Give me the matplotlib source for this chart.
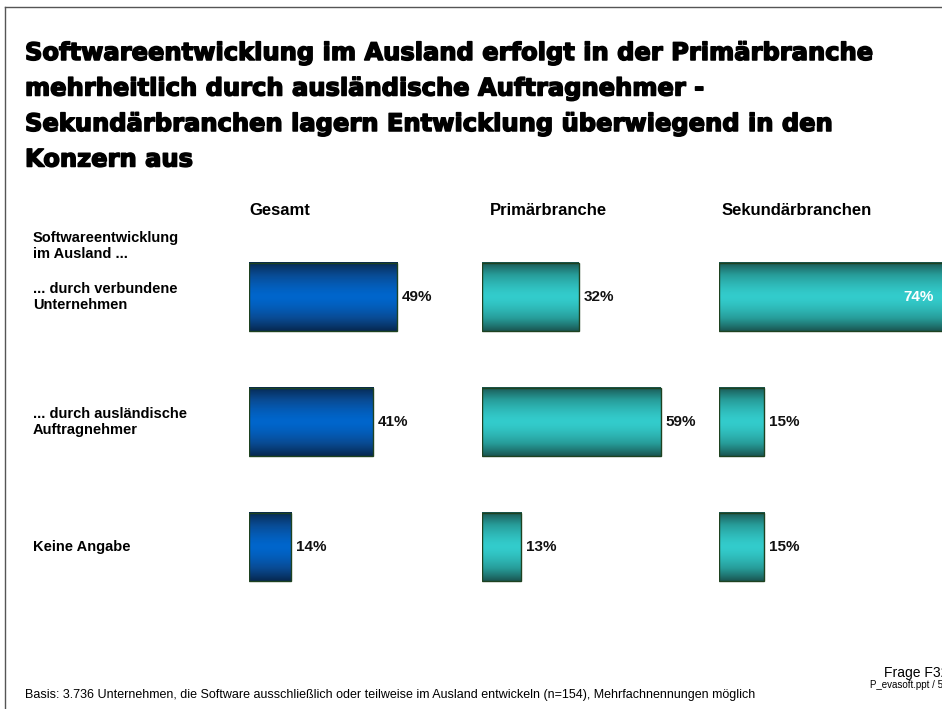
import numpy as np
import matplotlib
matplotlib.use('Agg')
import matplotlib.pyplot as plt
import matplotlib.patheffects as pe
from matplotlib.colors import LinearSegmentedColormap
from matplotlib.lines import Line2D

# data
TITLE_LINES = [
    'Softwareentwicklung im Ausland erfolgt in der Primärbranche',
    'mehrheitlich durch ausländische Auftragnehmer -',
    'Sekundärbranchen lagern Entwicklung überwiegend in den',
    'Konzern aus',
]
panels = ['Gesamt', 'Primärbranche', 'Sekundärbranchen']
row_header = 'Softwareentwicklung\nim Ausland ...'
categories = ['... durch verbundene\nUnternehmen',
              '... durch ausländische\nAuftragnehmer',
              'Keine Angabe']
gesamt = [49, 41, 14]
primaer = [32, 59, 13]
sekundaer = [74, 15, 15]
footer = ('Basis: 3.736 Unternehmen, die Software ausschließlich oder teilweise '
          'im Ausland entwickeln (n=154), Mehrfachnennungen möglich')
frage = 'Frage F32'
source = 'P_evasoft.ppt / 54'

W, H = 942, 709
FONT = 'Liberation Sans'

blue_cmap = LinearSegmentedColormap.from_list('b', ['#062850', '#094a92', '#0066cc'])
teal_cmap = LinearSegmentedColormap.from_list('t', ['#1a5652', '#279c99', '#33cccc'])


def fx(px):
    return px / W


def fy(py):
    return 1 - py / H


fig = plt.figure(figsize=(W / 100, H / 100), dpi=100)

# slide frame
fig.add_artist(Line2D([fx(5), fx(5)], [fy(7), 0], color='#555555', lw=1))
fig.add_artist(Line2D([fx(5), 1], [fy(7), fy(7)], color='#555555', lw=1))

# title, thickened a little to look like Arial Black
heavy = [pe.withStroke(linewidth=1.1, foreground='black')]
for i, line in enumerate(TITLE_LINES):
    fig.text(fx(25), fy(60 + i * 35.5), line, fontsize=17.4, fontweight='bold',
             family='DejaVu Sans', va='baseline', ha='left', path_effects=heavy)

# row labels
fig.text(fx(33), fy(246), row_header, fontsize=10.5, fontweight='bold',
         family=FONT, va='center', ha='left', linespacing=1.15)

row_spacing = 125
row0 = 297
for i, cat in enumerate(categories):
    fig.text(fx(33), fy(row0 + i * row_spacing), cat, fontsize=10.5,
             fontweight='bold', family=FONT, va='center', ha='left',
             linespacing=1.15)

# gradient profile: dark at top/bottom edge, bright in the middle
t = np.linspace(-1, 1, 200)
profile = (1 - np.abs(t) ** 1.5).reshape(-1, 1)

panel_left = [249, 482, 719]
header_x = [249, 490, 722]
values = [gesamt, primaer, sekundaer]
cmaps = [blue_cmap, teal_cmap, teal_cmap]
px_per_pct = 3.03

for k in range(3):
    fig.text(fx(header_x[k]), fy(215), panels[k], fontsize=12, fontweight='bold',
             family=FONT, va='baseline', ha='left')

    ax_bottom = fy(row0 + 2.5 * row_spacing)
    ax_top = fy(row0 - 0.5 * row_spacing)
    ax = fig.add_axes([fx(panel_left[k]), ax_bottom, fx(100 * px_per_pct), ax_top - ax_bottom])
    y = np.arange(len(categories))
    bars = ax.barh(y, values[k], height=0.55, color='none', edgecolor='#1e4220',
                   linewidth=1.0, zorder=3)
    for bar, v in zip(bars, values[k]):
        x0, y0 = bar.get_x(), bar.get_y()
        x1, y1 = x0 + bar.get_width(), y0 + bar.get_height()
        ax.imshow(profile, extent=[x0, x1, y1, y0], aspect='auto', cmap=cmaps[k],
                  vmin=0, vmax=1, zorder=2, interpolation='bilinear')
        yc = y0 + bar.get_height() / 2
        if v > 70:
            ax.text(x1 - 3, yc, f'{v}%', color='white', fontsize=11, fontweight='bold',
                    family=FONT, va='center', ha='right', zorder=4)
        else:
            ax.text(x1 + 1.4, yc, f'{v}%', color='#111111', fontsize=11, fontweight='bold',
                    family=FONT, va='center', ha='left', zorder=4)
    ax.set_xlim(0, 100)
    ax.set_ylim(2.5, -0.5)
    ax.axis('off')

# footer
fig.text(fx(25), fy(698), footer, fontsize=9, family=FONT, va='baseline', ha='left')
fig.text(fx(948), fy(677), frage, fontsize=10, family=FONT, va='baseline', ha='right')
fig.text(fx(948), fy(688), source, fontsize=7, family=FONT, va='baseline', ha='right',
         stretch='condensed')

fig.savefig('out.png', dpi=100)
